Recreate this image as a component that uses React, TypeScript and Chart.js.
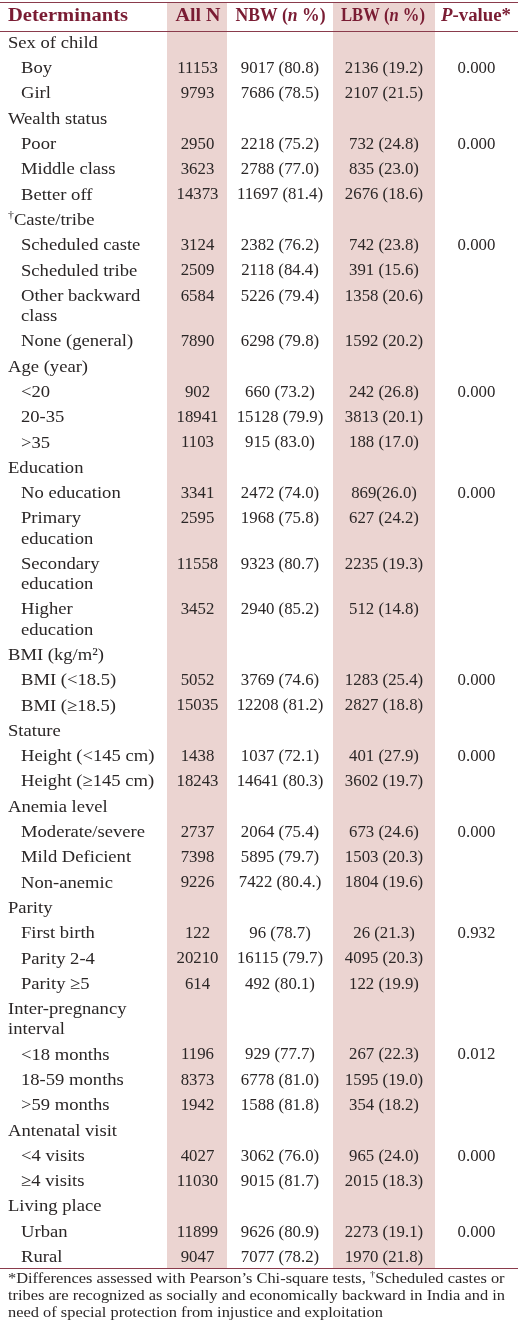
import React, { useEffect, useRef } from "react";
import { Chart, registerables } from "chart.js";

Chart.register(...registerables);

// ---------- DATA ----------
const headers: string[] = ["Determinants", "All N", "NBW (n %)", "LBW (n %)", "P-value*"];

const rowLabels: string[] = [
  "Sex of child", "Boy", "Girl",
  "Wealth status", "Poor", "Middle class", "Better off",
  "†Caste/tribe", "Scheduled caste", "Scheduled tribe", "Other backward\nclass", "None (general)",
  "Age (year)", "<20", "20-35", ">35",
  "Education", "No education", "Primary\neducation", "Secondary\neducation", "Higher\neducation",
  "BMI (kg/m²)", "BMI (<18.5)", "BMI (≥18.5)",
  "Stature", "Height (<145 cm)", "Height (≥145 cm)",
  "Anemia level", "Moderate/severe", "Mild Deficient", "Non-anemic",
  "Parity", "First birth", "Parity 2-4", "Parity ≥5",
  "Inter-pregnancy\ninterval", "<18 months", "18-59 months", ">59 months",
  "Antenatal visit", "<4 visits", "≥4 visits",
  "Living place", "Urban", "Rural",
];

const allN: (number | null)[] = [
  null, 11153, 9793,
  null, 2950, 3623, 14373,
  null, 3124, 2509, 6584, 7890,
  null, 902, 18941, 1103,
  null, 3341, 2595, 11558, 3452,
  null, 5052, 15035,
  null, 1438, 18243,
  null, 2737, 7398, 9226,
  null, 122, 20210, 614,
  null, 1196, 8373, 1942,
  null, 4027, 11030,
  null, 11899, 9047,
];

const nbwCells: (string | null)[] = [
  null, "9017 (80.8)", "7686 (78.5)",
  null, "2218 (75.2)", "2788 (77.0)", "11697 (81.4)",
  null, "2382 (76.2)", "2118 (84.4)", "5226 (79.4)", "6298 (79.8)",
  null, "660 (73.2)", "15128 (79.9)", "915 (83.0)",
  null, "2472 (74.0)", "1968 (75.8)", "9323 (80.7)", "2940 (85.2)",
  null, "3769 (74.6)", "12208 (81.2)",
  null, "1037 (72.1)", "14641 (80.3)",
  null, "2064 (75.4)", "5895 (79.7)", "7422 (80.4.)",
  null, "96 (78.7)", "16115 (79.7)", "492 (80.1)",
  null, "929 (77.7)", "6778 (81.0)", "1588 (81.8)",
  null, "3062 (76.0)", "9015 (81.7)",
  null, "9626 (80.9)", "7077 (78.2)",
];

const lbwCells: (string | null)[] = [
  null, "2136 (19.2)", "2107 (21.5)",
  null, "732 (24.8)", "835 (23.0)", "2676 (18.6)",
  null, "742 (23.8)", "391 (15.6)", "1358 (20.6)", "1592 (20.2)",
  null, "242 (26.8)", "3813 (20.1)", "188 (17.0)",
  null, "869(26.0)", "627 (24.2)", "2235 (19.3)", "512 (14.8)",
  null, "1283 (25.4)", "2827 (18.8)",
  null, "401 (27.9)", "3602 (19.7)",
  null, "673 (24.6)", "1503 (20.3)", "1804 (19.6)",
  null, "26 (21.3)", "4095 (20.3)", "122 (19.9)",
  null, "267 (22.3)", "1595 (19.0)", "354 (18.2)",
  null, "965 (24.0)", "2015 (18.3)",
  null, "2273 (19.1)", "1970 (21.8)",
];

const pValues: (string | null)[] = [
  null, "0.000", null,
  null, "0.000", null, null,
  null, "0.000", null, null, null,
  null, "0.000", null, null,
  null, "0.000", null, null, null,
  null, "0.000", null,
  null, "0.000", null,
  null, "0.000", null, null,
  null, "0.932", null, null,
  null, "0.012", null, null,
  null, "0.000", null,
  null, "0.000", null,
];

const footnoteLines: string[] = [
  "*Differences assessed with Pearson’s Chi-square tests, |†|Scheduled castes or",
  "tribes are recognized as socially and economically backward in India and in",
  "need of special protection from injustice and exploitation",
];

// ---------- STYLE ----------
const W = 518;
const H = 1331;
const FAM = '"Liberation Serif", "Times New Roman", serif';
const HEAD_COLOR = "#7a1c33";
const TEXT_COLOR = "#2a2626";
const PINK = "#ebd4d1";
const RULE = "#8a3b4c";

type Run = { t: string; f: string; dy?: number };

function runsWidth(ctx: CanvasRenderingContext2D, runs: Run[]) {
  let w = 0;
  for (const r of runs) {
    ctx.font = r.f;
    w += ctx.measureText(r.t).width;
  }
  return w;
}

function drawRuns(
  ctx: CanvasRenderingContext2D,
  runs: Run[],
  x: number,
  y: number,
  align: "left" | "center",
  targetW?: number,
  sx?: number
) {
  const w = runsWidth(ctx, runs);
  const s = sx ?? (targetW ? targetW / w : 1);
  const start = align === "center" ? x - (w * s) / 2 : x;
  ctx.save();
  ctx.translate(start, y);
  ctx.scale(s, 1);
  ctx.textAlign = "left";
  ctx.textBaseline = "middle";
  let cx = 0;
  for (const r of runs) {
    ctx.font = r.f;
    ctx.fillText(r.t, cx, r.dy ?? 0);
    cx += ctx.measureText(r.t).width;
  }
  ctx.restore();
}

const tablePlugin = {
  id: "tablePlugin",
  afterDraw(chart: any) {
    const ctx: CanvasRenderingContext2D = chart.ctx;
    const xs = chart.scales.x;
    const ys = chart.scales.y;
    const px = (v: number) => xs.getPixelForValue(v);
    const py = (v: number) => ys.getPixelForValue(v);

    // row geometry
    const rowPad = 25.3;
    const lineGap = 20.2;
    const centers: number[] = [];
    let top = 30.65;
    rowLabels.forEach((lab) => {
      const n = lab.split("\n").length;
      centers.push(top + rowPad / 2);
      top += rowPad + (n - 1) * lineGap;
    });
    const bottomRule = centers[centers.length - 1] + 10.5;

    // background
    ctx.save();
    ctx.fillStyle = "#ffffff";
    ctx.fillRect(0, 0, W, H);

    // shaded columns
    ctx.fillStyle = PINK;
    ctx.fillRect(px(167), py(2), px(227) - px(167), py(bottomRule) - py(2));
    ctx.fillRect(px(333), py(2), px(435) - px(333), py(bottomRule) - py(2));

    // rules
    ctx.strokeStyle = RULE;
    ctx.lineWidth = 1;
    [1.5, 30.5, bottomRule].forEach((yy) => {
      ctx.beginPath();
      ctx.moveTo(px(0), Math.round(py(yy)) + 0.5);
      ctx.lineTo(px(W), Math.round(py(yy)) + 0.5);
      ctx.stroke();
    });

    // header
    const B = `bold 18px ${FAM}`;
    const BI = `italic bold 18px ${FAM}`;
    ctx.fillStyle = HEAD_COLOR;
    const hy = py(16);
    drawRuns(ctx, [{ t: headers[0], f: B }], px(8), hy, "left", 120);
    drawRuns(ctx, [{ t: headers[1], f: B }], px(198), hy, "center", 45);
    const nb = headers[2].split("n");
    drawRuns(ctx, [{ t: nb[0], f: B }, { t: "n", f: BI }, { t: nb[1], f: B }], px(280.5), hy, "center", 90);
    const lb = headers[3].split("n");
    drawRuns(ctx, [{ t: lb[0], f: B }, { t: "n", f: BI }, { t: lb[1], f: B }], px(383), hy, "center", 84);
    drawRuns(ctx, [{ t: "P", f: BI }, { t: headers[4].slice(1), f: B }], px(476), hy, "center", 70);

    // body
    const LF = `17.4px ${FAM}`;
    const NF = `16.8px ${FAM}`;
    const SUP = `11px ${FAM}`;
    const labelScale = 1.07;
    ctx.fillStyle = TEXT_COLOR;
    rowLabels.forEach((lab, i) => {
      const isGroup = allN[i] === null;
      const x0 = isGroup ? 8 : 21;
      const lines = lab.split("\n");
      lines.forEach((ln, k) => {
        const yy = py(centers[i] + k * lineGap);
        if (ln.startsWith("†")) {
          drawRuns(ctx, [{ t: "†", f: SUP, dy: -5 }, { t: ln.slice(1), f: LF }], px(x0), yy, "left", undefined, labelScale);
        } else {
          drawRuns(ctx, [{ t: ln, f: LF }], px(x0), yy, "left", undefined, labelScale);
        }
      });
      const yc = py(centers[i]);
      if (allN[i] !== null) drawRuns(ctx, [{ t: String(allN[i]), f: NF }], px(197.5), yc, "center");
      if (nbwCells[i]) drawRuns(ctx, [{ t: nbwCells[i] as string, f: NF }], px(280), yc, "center");
      if (lbwCells[i]) drawRuns(ctx, [{ t: lbwCells[i] as string, f: NF }], px(384), yc, "center");
      if (pValues[i]) drawRuns(ctx, [{ t: pValues[i] as string, f: NF }], px(476.5), yc, "center");
    });

    // footnote
    const FF = `14px ${FAM}`;
    const FS = `9px ${FAM}`;
    const toRuns = (s: string): Run[] =>
      s.split("|").filter((p) => p.length).map((p) => (p === "†" ? { t: p, f: FS, dy: -4 } : { t: p, f: FF }));
    const ref = runsWidth(ctx, toRuns(footnoteLines[1]));
    const sx = 497 / ref;
    footnoteLines.forEach((ln, k) => {
      drawRuns(ctx, toRuns(ln), px(8), py(bottomRule + 11 + k * 17.3), "left", undefined, sx);
    });
    ctx.restore();
  },
};

export default function App() {
  const ref = useRef<HTMLCanvasElement | null>(null);
  useEffect(() => {
    if (!ref.current) return;
    const chart = new Chart(ref.current, {
      type: "scatter",
      data: { datasets: [{ data: [] }] },
      options: {
        animation: false,
        responsive: false,
        devicePixelRatio: 1,
        layout: { padding: 0 },
        plugins: { legend: { display: false }, tooltip: { enabled: false } },
        scales: {
          x: { type: "linear", min: 0, max: W, display: false },
          y: { type: "linear", min: 0, max: H, reverse: true, display: false },
        },
      },
      plugins: [tablePlugin],
    });
    return () => chart.destroy();
  }, []);
  return (
    <div style={{ position: "absolute", left: 0, top: 0, width: W, height: H, background: "#fff" }}>
      <canvas ref={ref} width={W} height={H} style={{ display: "block", width: W, height: H }} />
    </div>
  );
}
